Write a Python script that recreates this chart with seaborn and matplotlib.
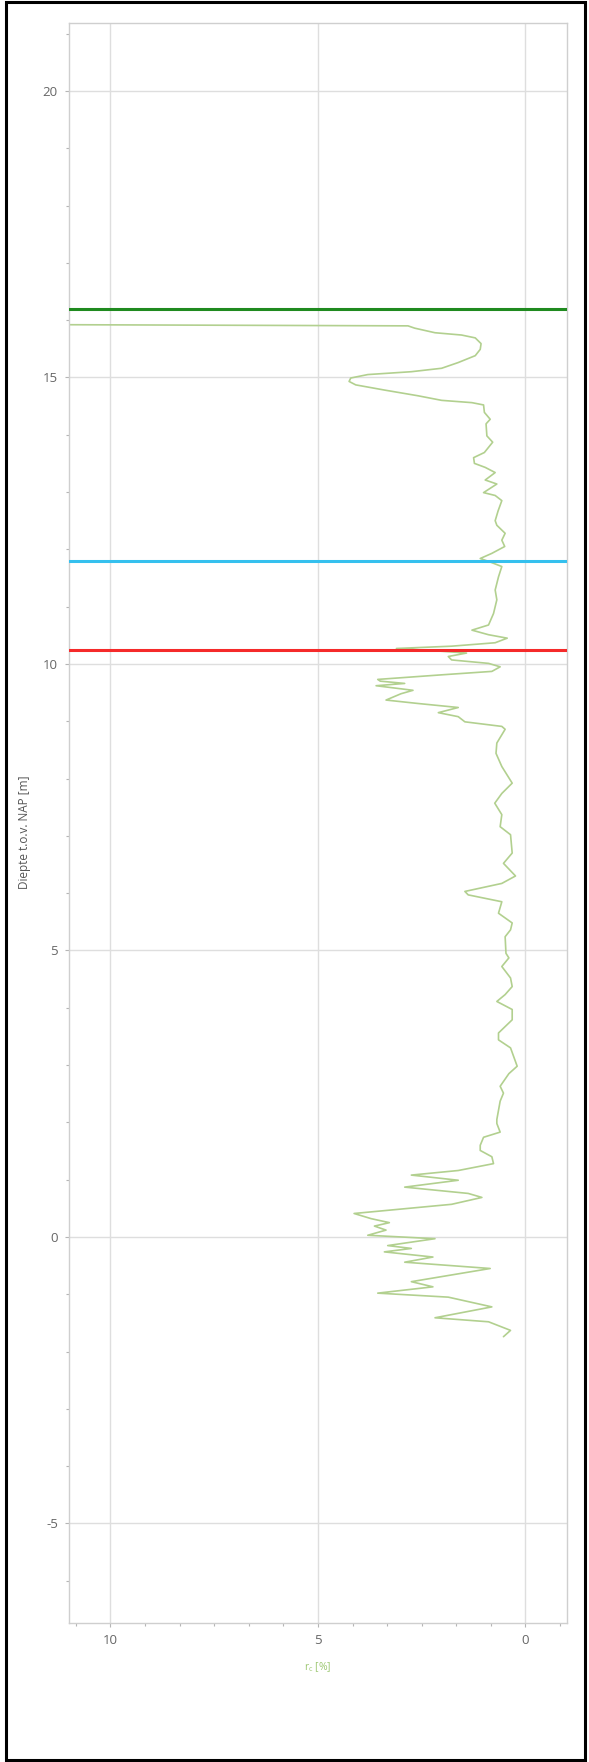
import matplotlib
matplotlib.use("Agg")
import matplotlib.pyplot as plt
from matplotlib.patches import Rectangle
from matplotlib.ticker import MultipleLocator, AutoMinorLocator
import seaborn as sns
import pandas as pd

# Friction ratio profile (r_c in %) against depth relative to NAP (m)
depth = [15.92, 15.90, 15.86, 15.78, 15.74, 15.69, 15.59, 15.49, 15.38, 15.26,
         15.16, 15.10, 15.05, 14.99, 14.93, 14.87, 14.78, 14.68, 14.60, 14.56,
         14.52, 14.39, 14.27, 14.19, 13.98, 13.87, 13.69, 13.60, 13.50, 13.43,
         13.34, 13.21, 13.14, 12.99, 12.94, 12.85, 12.67, 12.50, 12.42, 12.28,
         12.16, 12.05, 11.93, 11.84, 11.79, 11.70, 11.52, 11.29, 11.12, 10.88,
         10.68, 10.59, 10.51, 10.45, 10.37, 10.31, 10.27, 10.23, 10.19, 10.13,
         10.07, 10.01, 9.95, 9.87, 9.81, 9.73, 9.70, 9.66, 9.62, 9.54,
         9.48, 9.37, 9.31, 9.24, 9.15, 9.08, 8.99, 8.94, 8.91, 8.86,
         8.62, 8.44, 8.21, 7.92, 7.74, 7.57, 7.37, 7.16, 7.02, 6.70,
         6.52, 6.30, 6.17, 6.03, 5.97, 5.85, 5.65, 5.48, 5.36, 5.24,
         4.95, 4.87, 4.72, 4.52, 4.37, 4.23, 4.11, 3.97, 3.79, 3.56,
         3.44, 3.30, 2.98, 2.85, 2.63, 2.51, 2.37, 2.05, 1.98, 1.83,
         1.74, 1.60, 1.51, 1.40, 1.28, 1.16, 1.08, 0.99, 0.87, 0.76,
         0.69, 0.57, 0.41, 0.32, 0.25, 0.19, 0.12, 0.03, -0.03, -0.15,
         -0.20, -0.26, -0.35, -0.44, -0.55, -0.78, -0.87, -0.98, -1.05, -1.22,
         -1.41, -1.48, -1.63, -1.74]
rc = [11.00, 2.83, 2.67, 2.18, 1.54, 1.21, 1.07, 1.09, 1.21, 1.62,
      2.02, 2.75, 3.80, 4.21, 4.25, 4.09, 3.40, 2.59, 2.02, 1.29,
      1.01, 0.99, 0.85, 0.95, 0.93, 0.79, 0.99, 1.25, 1.23, 0.97,
      0.73, 0.97, 0.69, 1.01, 0.73, 0.57, 0.66, 0.73, 0.69, 0.49,
      0.57, 0.50, 0.81, 1.09, 0.89, 0.57, 0.65, 0.73, 0.69, 0.77,
      0.89, 1.29, 0.89, 0.44, 0.73, 1.78, 3.11, 2.18, 1.42, 1.86,
      1.78, 0.89, 0.61, 0.81, 2.02, 3.56, 3.50, 2.91, 3.60, 2.71,
      3.00, 3.36, 2.59, 1.62, 2.10, 1.62, 1.46, 0.89, 0.57, 0.49,
      0.69, 0.71, 0.57, 0.32, 0.57, 0.74, 0.57, 0.61, 0.36, 0.32,
      0.53, 0.24, 0.57, 1.46, 1.38, 0.57, 0.65, 0.32, 0.36, 0.49,
      0.47, 0.40, 0.57, 0.36, 0.32, 0.49, 0.69, 0.32, 0.32, 0.65,
      0.65, 0.36, 0.20, 0.40, 0.61, 0.53, 0.61, 0.69, 0.69, 0.61,
      1.01, 1.09, 1.09, 0.81, 0.77, 1.62, 2.75, 1.62, 2.91, 1.38,
      1.05, 1.78, 4.13, 3.72, 3.28, 3.64, 3.36, 3.80, 2.18, 3.32,
      2.75, 3.40, 2.23, 2.91, 0.85, 2.75, 2.23, 3.56, 1.86, 0.81,
      2.18, 0.89, 0.36, 0.53]

# Layer boundary levels (m NAP)
level_names = ["maaiveld", "grondwater", "grens"]
level_values = [16.19, 11.80, 10.25]
level_colors = ["#1f8a1f", "#35c0ee", "#f52a2a"]

x_ticks = [10, 5, 0]
y_ticks = [20, 15, 10, 5, 0, -5]

sns.set_theme(style="whitegrid")
plt.rcParams["font.family"] = ["Open Sans", "DejaVu Sans"]
plt.rcParams["axes.unicode_minus"] = False

fig = plt.figure(figsize=(5.89, 17.62), dpi=100)
ax = fig.add_axes([0.1171, 0.0791, 0.8455, 0.9080])

profile = pd.DataFrame({"rc": rc, "depth": depth})
sns.lineplot(data=profile, x="rc", y="depth", sort=False, estimator=None,
             color="#b2d08f", linewidth=1.2, ax=ax)
for ln in ax.get_lines():
    ln.set_solid_joinstyle("round")
    ln.set_solid_capstyle("round")

for name, val, col in zip(level_names, level_values, level_colors):
    ax.axhline(val, color=col, linewidth=2.2, zorder=3)

ax.set_xlim(11.0, -1.0)
ax.set_ylim(-6.73, 21.19)
ax.set_xticks(x_ticks)
ax.set_yticks(y_ticks)
ax.set_xticklabels([str(v) for v in x_ticks])
ax.set_yticklabels([str(v) for v in y_ticks])
ax.xaxis.set_minor_locator(AutoMinorLocator(6))
ax.yaxis.set_minor_locator(MultipleLocator(1))

ax.grid(True, which="major", color="#dedede", linewidth=1.0)
ax.grid(False, which="minor")
for s in ax.spines.values():
    s.set_color("#cfcfcf")
    s.set_linewidth(1.0)

ax.tick_params(axis="both", which="major", length=3, width=0.8,
               color="#b5b5b5", labelcolor="#666666", labelsize=9.5, pad=5,
               left=True, bottom=True)
ax.tick_params(axis="both", which="minor", length=2.5, width=0.8,
               color="#b5b5b5", left=True, bottom=True)

ax.set_ylabel("Diepte t.o.v. NAP [m]", color="#555555", fontsize=8.5)
ax.yaxis.set_label_coords(-0.077, 0.494)
ax.set_xlabel(r"$\mathregular{r_c}$ [%]", color="#9dc873", fontsize=7.5)
ax.xaxis.set_label_coords(0.5, -0.0235)

fig.patches.append(Rectangle((0.0100, 0.0010), 0.9840, 0.9980,
                             transform=fig.transFigure, fill=False,
                             edgecolor="black", linewidth=2.2))

fig.savefig("out.png", dpi=100)
